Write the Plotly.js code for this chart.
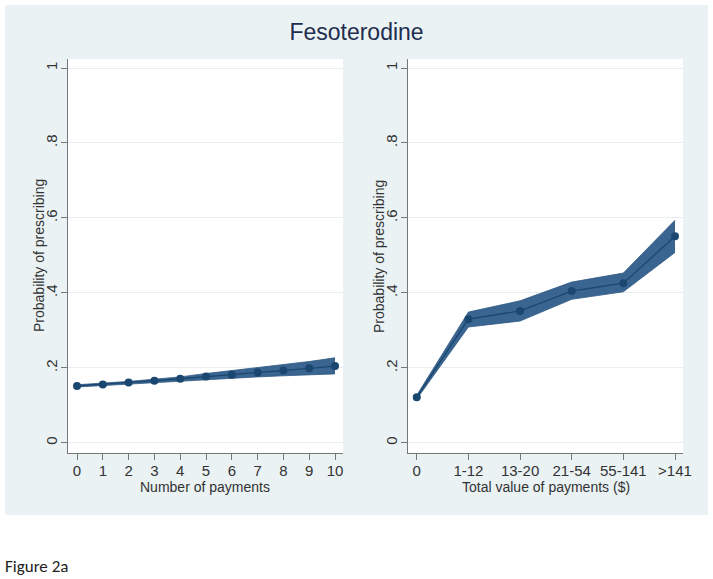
<!DOCTYPE html>
<html>
<head>
<meta charset="utf-8">
<script src="https://cdn.plot.ly/plotly-3.0.1.min.js"></script>
<style>html,body{margin:0;padding:0;background:#fff;}#chart{width:713px;height:579px;}</style>
</head>
<body>
<div id="chart"></div>
<script>
// Left panel: number of payments
var numPayments = [0, 1, 2, 3, 4, 5, 6, 7, 8, 9, 10];
var probNum = [0.152, 0.156, 0.161, 0.166, 0.171, 0.177, 0.182, 0.188, 0.193, 0.199, 0.205];
var probNumLower = [0.149, 0.153, 0.158, 0.162, 0.166, 0.169, 0.172, 0.176, 0.179, 0.182, 0.184];
var probNumUpper = [0.155, 0.159, 0.164, 0.170, 0.176, 0.185, 0.193, 0.200, 0.208, 0.217, 0.227];

// Right panel: total value of payments
var valueCats = ["0", "1-12", "13-20", "21-54", "55-141", ">141"];
var probVal = [0.122, 0.330, 0.352, 0.405, 0.426, 0.551];
var probValLower = [0.117, 0.309, 0.325, 0.383, 0.403, 0.508];
var probValUpper = [0.127, 0.349, 0.379, 0.429, 0.453, 0.594];

var yTickVals = [0, 0.2, 0.4, 0.6, 0.8, 1];
var yTickText = ["0", ".2", ".4", ".6", ".8", "1"];

var navy = "#1a476f";
var bandFill = "#3a6591";
var W = 713, H = 579;
var FONT = "Liberation Sans, Arial, sans-serif";

function band(x, lo, hi, xa, ya) {
  return [
    {x: x, y: lo, xaxis: xa, yaxis: ya, type: "scatter", mode: "lines",
     line: {color: "#2e5882", width: 0.8}, hoverinfo: "skip", showlegend: false},
    {x: x, y: hi, xaxis: xa, yaxis: ya, type: "scatter", mode: "lines",
     line: {color: "#2e5882", width: 0.8}, fill: "tonexty", fillcolor: bandFill,
     hoverinfo: "skip", showlegend: false},
  ];
}
function mid(x, y, xa, ya) {
  return {x: x, y: y, xaxis: xa, yaxis: ya, type: "scatter", mode: "lines+markers",
    line: {color: navy, width: 1.3}, marker: {color: navy, size: 8}, showlegend: false};
}

var traces = []
  .concat(band(numPayments, probNumLower, probNumUpper, "x", "y"))
  .concat([mid(numPayments, probNum, "x", "y")])
  .concat(band(valueCats, probValLower, probValUpper, "x2", "y2"))
  .concat([mid(valueCats, probVal, "x2", "y2")]);

var yDom = [1 - 453 / H, 1 - 59 / H];
var axisFont = {family: FONT, size: 15, color: "#333"};
function yAxis(anchor) {
  return {domain: yDom, anchor: anchor, range: [-0.027, 1.024],
    tickvals: yTickVals, ticktext: yTickText, tickangle: -90,
    ticks: "outside", ticklen: 6, tickcolor: "#777", tickwidth: 1,
    ticklabelstandoff: -2,
    showline: true, linecolor: "#777", linewidth: 1,
    showgrid: true, gridcolor: "#e6eef1", gridwidth: 1, zeroline: false,
    tickfont: axisFont};
}
function xAxis(dom, anchor) {
  return {domain: dom, anchor: anchor, ticks: "outside", ticklen: 6, tickcolor: "#777",
    showline: true, linecolor: "#777", linewidth: 1, showgrid: false, zeroline: false,
    ticklabelstandoff: -2,
    tickfont: axisFont};
}

var xa1 = xAxis([68 / W, 343 / W], "y");
xa1.range = [-0.35, 10.31];
xa1.tickvals = numPayments;
var xa2 = xAxis([408 / W, 683 / W], "y2");
xa2.type = "category";
xa2.range = [-0.17, 5.155];

var titleFont = {family: FONT, size: 14, color: "#333"};
var layout = {
  width: W, height: H,
  margin: {l: 0, r: 0, t: 0, b: 0},
  paper_bgcolor: "#ffffff",
  plot_bgcolor: "rgba(0,0,0,0)",
  title: {text: "Fesoterodine", x: 0.5, xanchor: "center", y: 1 - 32 / H, yanchor: "middle",
    font: {family: FONT, size: 23, color: "#1e2d50"}},
  xaxis: xa1, yaxis: yAxis("x"),
  xaxis2: xa2, yaxis2: yAxis("x2"),
  shapes: [
    {type: "rect", xref: "paper", yref: "paper", x0: 5 / W, x1: 708 / W, y0: 1 - 515 / H, y1: 1 - 5 / H,
     fillcolor: "#eaf2f3", line: {width: 0}, layer: "below"},
    {type: "rect", xref: "paper", yref: "paper", x0: 68 / W, x1: 343 / W, y0: yDom[0], y1: yDom[1],
     fillcolor: "#ffffff", line: {width: 0}, layer: "below"},
    {type: "rect", xref: "paper", yref: "paper", x0: 408 / W, x1: 683 / W, y0: yDom[0], y1: yDom[1],
     fillcolor: "#ffffff", line: {width: 0}, layer: "below"}
  ],
  annotations: [
    {text: "Probability of prescribing", xref: "paper", yref: "paper", x: 39 / W, y: (yDom[0] + yDom[1]) / 2,
     xanchor: "center", yanchor: "middle", textangle: -90, showarrow: false, font: titleFont},
    {text: "Probability of prescribing", xref: "paper", yref: "paper", x: 379 / W, y: (yDom[0] + yDom[1]) / 2,
     xanchor: "center", yanchor: "middle", textangle: -90, showarrow: false, font: titleFont},
    {text: "Number of payments", xref: "paper", yref: "paper", x: (68 + 343) / 2 / W, y: 1 - 487 / H,
     xanchor: "center", yanchor: "middle", showarrow: false, font: titleFont},
    {text: "Total value of payments ($)", xref: "paper", yref: "paper", x: (408 + 683) / 2 / W, y: 1 - 487 / H,
     xanchor: "center", yanchor: "middle", showarrow: false, font: titleFont},
    {text: "Figure 2a", xref: "paper", yref: "paper", x: 3 / W, y: 1 - 566 / H,
     xanchor: "left", yanchor: "middle", showarrow: false,
     font: {family: "Carlito, Open Sans, Liberation Sans, sans-serif", size: 17, color: "#222"}}
  ]
};

Plotly.newPlot("chart", traces, layout, {displayModeBar: false, staticPlot: true});
</script>
</body>
</html>
